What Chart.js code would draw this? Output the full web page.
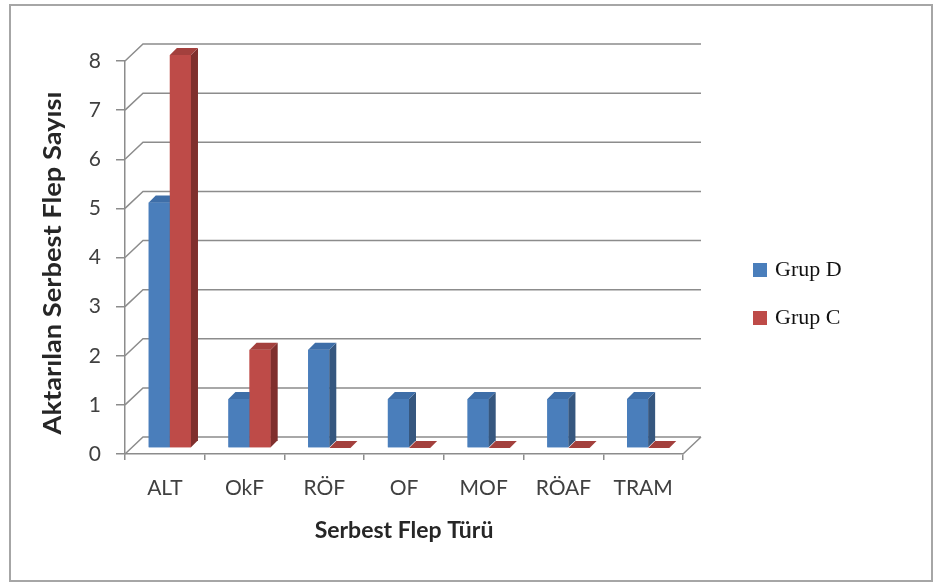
<!DOCTYPE html>
<html>
<head>
<meta charset="utf-8">
<script src="https://cdn.jsdelivr.net/npm/chart.js@4.4.1/dist/chart.umd.min.js"></script>
<style>
  html, body { margin: 0; padding: 0; background: #fff; }
  #wrap { width: 936px; height: 583px; }
</style>
</head>
<body>
<div id="wrap"><canvas id="flepChart" width="936" height="583"></canvas></div>
<script>
// free flap types and transferred counts per group
const flepTypes = ['ALT', 'OkF', 'RÖF', 'OF', 'MOF', 'RÖAF', 'TRAM'];
const grupD = [5, 1, 2, 1, 1, 1, 1];
const grupC = [8, 2, 0, 0, 0, 0, 0];
const yMax = 8;
const yTitle = 'Aktarılan Serbest Flep Sayısı';

// pseudo-3D geometry (pixels)
const WALL = { dx: 18, dy: 17 };      // front axis -> back wall
const SHIFT = { dx: 5, dy: -6 };      // bars sit halfway in the depth
const DEPTH = { dx: 7, dy: 7 };       // thickness of each column

const lineGray = '#8c8c8c';
const faces = [
	{ front: '#4a7ebb', side: '#36577f', top: '#3e6ea8' },
	{ front: '#be4b48', side: '#7f2f2d', top: '#a3403d' }
];

const depthPlugin = {
	id: 'depth',
	beforeDraw(chart) {
		const ctx = chart.ctx;
		ctx.save();
		ctx.strokeStyle = '#a6a6a6';
		ctx.lineWidth = 2;
		ctx.strokeRect(10, 5, 922, 576);
		ctx.restore();
	},
	beforeDatasetsDraw(chart) {
		const { ctx, chartArea: a, scales: { y } } = chart;
		ctx.save();
		ctx.strokeStyle = lineGray;
		ctx.lineWidth = 1.5;
		ctx.beginPath();
		y.ticks.forEach(t => {
			const py = y.getPixelForValue(t.value);
			ctx.moveTo(a.left, py);
			ctx.lineTo(a.left + WALL.dx, py - WALL.dy);
			ctx.lineTo(a.right + WALL.dx, py - WALL.dy);
		});
		// right edge of the floor
		ctx.moveTo(a.right, a.bottom);
		ctx.lineTo(a.right + WALL.dx, a.bottom - WALL.dy);
		ctx.stroke();
		ctx.restore();

		ctx.save();
		ctx.translate(SHIFT.dx, SHIFT.dy);
	},
	afterDatasetsDraw(chart) {
		const ctx = chart.ctx;
		// redraw every column left to right so each side face is hidden by its neighbour
		const cols = [];
		chart.data.datasets.forEach((ds, i) => {
			chart.getDatasetMeta(i).data.forEach(el => cols.push({ el, f: faces[i] }));
		});
		cols.sort((p, q) => p.el.x - q.el.x);
		cols.forEach(({ el, f }) => {
			const { x, y, base, width } = el.getProps(['x', 'y', 'base', 'width'], true);
			const l = x - width / 2, r = x + width / 2;
			el.draw(ctx);
			ctx.fillStyle = f.side;
			ctx.beginPath();
			ctx.moveTo(r, y);
			ctx.lineTo(r + DEPTH.dx, y - DEPTH.dy);
			ctx.lineTo(r + DEPTH.dx, base - DEPTH.dy);
			ctx.lineTo(r, base);
			ctx.closePath();
			ctx.fill();
			ctx.fillStyle = f.top;
			ctx.beginPath();
			ctx.moveTo(l, y);
			ctx.lineTo(r, y);
			ctx.lineTo(r + DEPTH.dx, y - DEPTH.dy);
			ctx.lineTo(l + DEPTH.dx, y - DEPTH.dy);
			ctx.closePath();
			ctx.fill();
		});
		ctx.restore();
	},
	afterDraw(chart) {
		const ctx = chart.ctx;
		// vertical axis title, stretched along its length
		ctx.save();
		ctx.font = 'bold 24px Lato';
		ctx.fillStyle = '#262626';
		ctx.textAlign = 'center';
		ctx.textBaseline = 'middle';
		const w = ctx.measureText(yTitle).width;
		ctx.translate(53, 263);
		ctx.rotate(-Math.PI / 2);
		ctx.scale(343 / w, 1);
		ctx.fillText(yTitle, 0, 0);
		ctx.restore();

		// legend on the right
		ctx.save();
		ctx.font = '22px "Liberation Serif"';
		ctx.textBaseline = 'middle';
		chart.data.datasets.forEach((ds, i) => {
			const cy = 270 + i * 48;
			ctx.fillStyle = faces[i].front;
			ctx.fillRect(753, cy - 7, 14, 14);
			ctx.fillStyle = '#111';
			ctx.fillText(ds.label, 775, cy);
		});
		ctx.restore();
	}
};

new Chart(document.getElementById('flepChart'), {
	type: 'bar',
	data: {
		labels: flepTypes,
		datasets: [{
			label: 'Grup D',
			data: grupD,
			backgroundColor: faces[0].front,
			clip: false
		}, {
			label: 'Grup C',
			data: grupC,
			backgroundColor: faces[1].front,
			clip: false
		}]
	},
	options: {
		responsive: false,
		animation: false,
		categoryPercentage: 0.53,
		barPercentage: 1,
		layout: { padding: { left: 20, right: 253, top: 61, bottom: 20 } },
		plugins: {
			legend: { display: false },
			tooltip: { enabled: false }
		},
		scales: {
			x: {
				afterFit(scale) { scale.height = 109; },
				grid: { drawOnChartArea: false, offset: true, tickLength: 6, color: lineGray, lineWidth: 1.5 },
				border: { color: lineGray, width: 1.5 },
				ticks: { padding: 16, color: '#404040', font: { family: 'Lato', size: 21 } },
				title: {
					display: true,
					text: 'Serbest Flep Türü',
					color: '#262626',
					font: { family: 'Lato', size: 23, weight: 'bold' },
					padding: { top: 0, bottom: 19 }
				}
			},
			y: {
				min: 0,
				max: yMax,
				afterFit(scale) { scale.width = 105; },
				grid: { drawOnChartArea: false, tickLength: 9, color: lineGray, lineWidth: 1.5 },
				border: { color: lineGray, width: 1.5 },
				ticks: { stepSize: 1, padding: 15, color: '#404040', font: { family: 'Lato', size: 21 } }
			}
		}
	},
	plugins: [depthPlugin]
});
</script>
</body>
</html>
